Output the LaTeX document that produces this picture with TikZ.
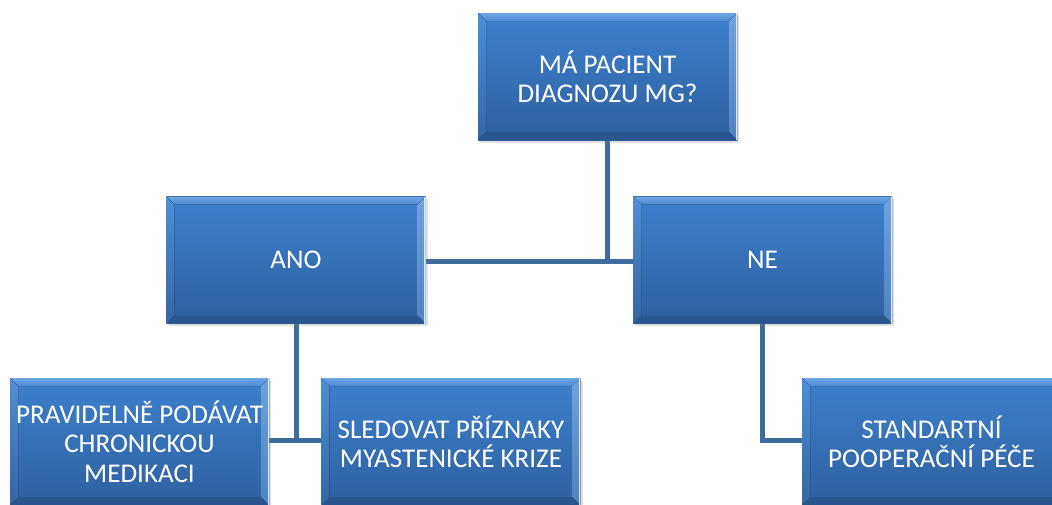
\documentclass[tikz,border=0pt]{standalone}
\usepackage{fontspec}
\setmainfont{Carlito}
\usetikzlibrary{shadows}
\definecolor{mtop}{HTML}{3D81CD}
\definecolor{mbot}{HTML}{2E609F}
\definecolor{btop}{HTML}{6FA6E4}
\definecolor{btopb}{HTML}{4B8AD4}
\definecolor{bleft}{HTML}{4E8ED6}
\definecolor{bleftb}{HTML}{3566A5}
\definecolor{bright}{HTML}{6FA3DD}
\definecolor{brightb}{HTML}{4F82BF}
\definecolor{bbot}{HTML}{2A568F}
\definecolor{conn}{HTML}{3E6A9E}
\tikzset{
  bevelbox/.style={
    rectangle, inner sep=0pt, outer sep=0pt,
    minimum width=194.25pt, minimum height=95.25pt,
    align=center, text=white,
    font=\fontsize{20.3}{22}\selectfont,
    top color=mtop, bottom color=mbot,
    drop shadow={opacity=0.25, shadow xshift=1.5pt, shadow yshift=-2pt},
    path picture={
      \coordinate (bnw) at (path picture bounding box.north west);
      \coordinate (bne) at (path picture bounding box.north east);
      \coordinate (bsw) at (path picture bounding box.south west);
      \coordinate (bse) at (path picture bounding box.south east);
      \fill[top color=btop, bottom color=btopb]
        (bnw) -- (bne) -- ([shift={(-6pt,-6pt)}]bne) -- ([shift={(6pt,-6pt)}]bnw) -- cycle;
      \fill[top color=bleft, bottom color=bleftb]
        (bnw) -- ([shift={(6pt,-6pt)}]bnw) -- ([shift={(6pt,6pt)}]bsw) -- (bsw) -- cycle;
      \fill[top color=bright, bottom color=brightb]
        (bne) -- ([shift={(-6pt,-6pt)}]bne) -- ([shift={(-6pt,6pt)}]bse) -- (bse) -- cycle;
      \fill[bbot]
        (bsw) -- ([shift={(6pt,6pt)}]bsw) -- ([shift={(-6pt,6pt)}]bse) -- (bse) -- cycle;
      \draw[white, opacity=0.8, line width=1pt]
        ([shift={(-0.5pt,0pt)}]bne) -- ([shift={(-0.5pt,0pt)}]bse);
    }
  },
  connector/.style={draw=conn, line width=3.75pt}
}
\begin{document}
\begin{tikzpicture}[x=0.75pt, y=-0.75pt]
\useasboundingbox (0,0) rectangle (1052,504);
% connectors first (behind boxes)
\coordinate (topc) at (607.5,76.5);
\coordinate (anoc) at (296,260);
\coordinate (nec) at (762.5,260);
\coordinate (pravc) at (139.5,441.5);
\coordinate (sledc) at (451,441.5);
\coordinate (stdc) at (931.5,441.5);
\coordinate (hub) at (607.5,261);
\coordinate (lhub) at (296,440);
\coordinate (rhub) at (762.5,440);
\draw[connector] (topc) -- (hub);
\draw[connector] (anoc) -- (anoc |- hub) -- (nec |- hub);
\draw[connector] (anoc) -- (lhub);
\draw[connector] (pravc |- lhub) -- (sledc |- lhub);
\draw[connector] (nec) -- (rhub) -- (stdc |- rhub);
% boxes
\node[bevelbox] (top) at (topc) {MÁ PACIENT\\DIAGNOZU MG?};
\node[bevelbox] (ano) at (anoc) {ANO};
\node[bevelbox] (ne) at (nec) {NE};
\node[bevelbox] (prav) at (pravc) {PRAVIDELNĚ PODÁVAT\\CHRONICKOU\\MEDIKACI};
\node[bevelbox] (sled) at (sledc) {SLEDOVAT PŘÍZNAKY\\MYASTENICKÉ KRIZE};
\node[bevelbox] (std) at (stdc) {STANDARTNÍ\\POOPERAČNÍ PÉČE};
\end{tikzpicture}
\end{document}
